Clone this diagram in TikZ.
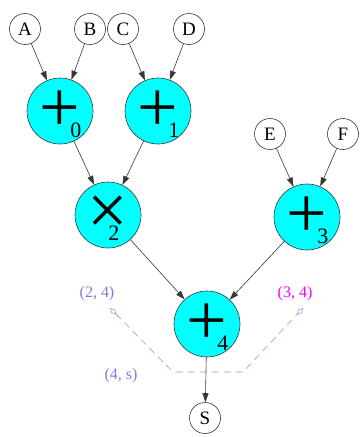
\documentclass[tikz,border=0pt]{standalone}
\usepackage{fontspec}
\setmainfont{Liberation Serif}
\usetikzlibrary{arrows.meta}
\definecolor{opfill}{RGB}{0,255,255}
\definecolor{edgegray}{RGB}{55,55,55}
\definecolor{lavender}{RGB}{125,125,215}
\definecolor{dashlav}{RGB}{150,150,225}
\definecolor{tagpink}{RGB}{255,0,255}
\newcommand{\opsym}[3][-10pt]{{\fontsize{72}{72}\selectfont #2}\rlap{\kern#1\raisebox{-6pt}[0pt][0pt]{\fontsize{22}{22}\selectfont #3}}}

\begin{document}
\begin{tikzpicture}[x=1pt,y=-1pt,>={Triangle[length=9pt,width=6pt]},
  every node/.style={font=\fontsize{19}{19}\selectfont},
  leaf/.style={circle,draw=edgegray,fill=white,line width=0.6pt,minimum size=31pt,inner sep=0pt},
  op/.style={circle,draw=edgegray,fill=opfill,line width=0.6pt,minimum size=66pt,inner sep=0pt},
  flow/.style={->,draw=edgegray,line width=0.6pt},
  tag/.style={font=\fontsize{16}{16}\selectfont,text=lavender}]
  \useasboundingbox (0,0) rectangle (363,437);
  % inputs
  \node[leaf] (a) at (25,29) {A};
  \node[leaf] (b) at (90,29) {B};
  \node[leaf] (c) at (123,29) {C};
  \node[leaf] (d) at (189,29) {D};
  \node[leaf] (e) at (270,134) {E};
  \node[leaf] (f) at (343,134) {F};
  % operators
  \node[op] (add0) at (60,111) {\opsym{+}{0}};
  \node[op] (add1) at (158,111) {\opsym{+}{1}};
  \node[op] (mul2) at (108,215) {\opsym[-20pt]{×}{2}};
  \node[op] (add3) at (307,217) {\opsym{+}{3}};
  \node[op] (add4) at (207,324) {\opsym{+}{4}};
  \node[leaf] (s) at (205,418) {S};
  \draw[flow] (a) -- (add0);
  \draw[flow] (b) -- (add0);
  \draw[flow] (c) -- (add1);
  \draw[flow] (d) -- (add1);
  \draw[flow] (add0) -- (mul2);
  \draw[flow] (add1) -- (mul2);
  \draw[flow] (e) -- (add3);
  \draw[flow] (f) -- (add3);
  \draw[flow] (mul2) -- (add4);
  \draw[flow] (add3) -- (add4);
  \draw[flow] (add4) -- (s);
  % edge tags
  \node[tag] (t24) at (97,294) {(2, 4)};
  \node[tag,text=tagpink] (t34) at (295,294) {(3, 4)};
  \node[tag] (t4s) at (121,376) {(4, s)};
  \coordinate (end24) at (110,308);
  \coordinate (bendl) at (173,372);
  \coordinate (bendr) at (243,372);
  \coordinate (end34) at (303,308);
  \draw[dashlav,line width=0.6pt,dash pattern=on 7pt off 5pt,
    {Diamond[open,length=9pt,width=5pt]}-{Diamond[open,length=9pt,width=5pt]}]
    (end24) -- (bendl) -- (bendr) -- (end34);
\end{tikzpicture}
\end{document}
